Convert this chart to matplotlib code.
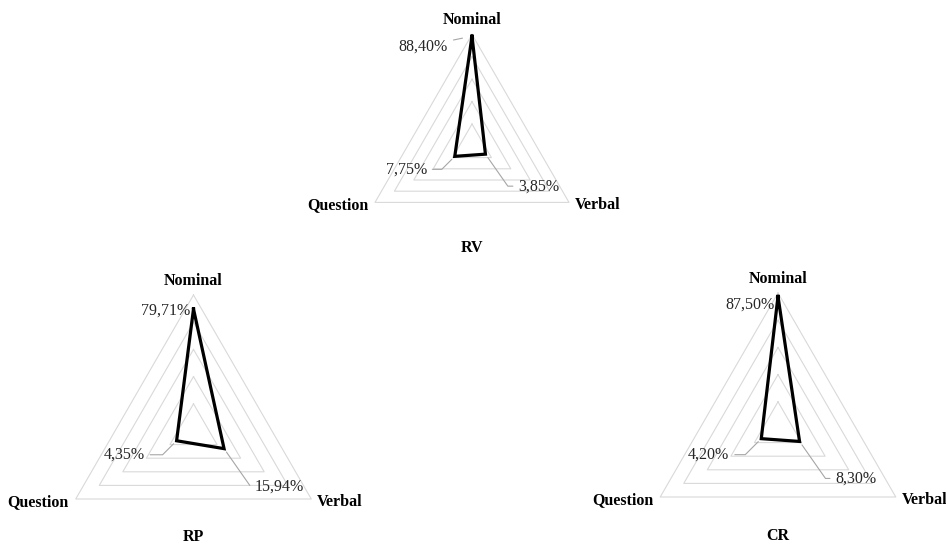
import numpy as np
import matplotlib
matplotlib.use("Agg")
import matplotlib.pyplot as plt

categories = ["Nominal", "Verbal", "Question"]
rv_values = [88.40, 3.85, 7.75]
rp_values = [79.71, 15.94, 4.35]
cr_values = [87.50, 8.30, 4.20]
chart_titles = ["RV", "RP", "CR"]
ring_levels = [10, 30, 50, 70, 90]
r_min, r_max = -10, 90

plt.rcParams['font.family'] = ['Liberation Serif', 'DejaVu Serif']

W, H = 946, 544
fig = plt.figure(figsize=(W / 100, H / 100), dpi=100)

# (center x, center y in px from top, radius px, title offset px)
layouts = [(472, 146.4, 112, 102), (193.5, 431, 136, 106), (778, 429, 136, 107)]
# label offsets (px) for Nominal, Verbal, Question and whether leader line
label_offsets = [
    [(-24, -10, True), (33, -32, True), (-28, -13, True)],
    [(-3, -2, False), (31, -38, True), (-32, -14, True)],
    [(-3, -8, False), (36, -37, True), (-32, -16, True)],
]
leader_conn = {
    0: "arc3,rad=0",
    1: "angle,angleA=0,angleB=-55,rad=0",
    2: "angle,angleA=0,angleB=45,rad=0",
}
leader_shrinkB = {0: 7, 1: 3, 2: 3}

angles = [0, 2 * np.pi / 3, 4 * np.pi / 3]
all_values = [rv_values, rp_values, cr_values]

for idx, ((cx, cy, R, toff), vals, title) in enumerate(zip(layouts, all_values, chart_titles)):
    ax = fig.add_axes([(cx - R) / W, (H - cy - R) / H, 2 * R / W, 2 * R / H],
                      projection='polar')
    ax.set_theta_offset(np.pi / 2)
    ax.set_theta_direction(-1)
    ax.set_ylim(r_min, r_max)
    ax.grid(False)
    ax.set_xticks([])
    ax.set_yticks([])
    ax.spines['polar'].set_visible(False)
    ax.patch.set_visible(False)

    closed = angles + [angles[0]]
    for lv in ring_levels:
        ax.plot(closed, [lv] * 4, color='#d9d9d9', lw=0.8, zorder=1, clip_on=False)

    ax.plot(closed, list(vals) + [vals[0]], color='black', lw=2.3, zorder=3,
            solid_joinstyle='miter', clip_on=False)

    # category labels
    ax.annotate(categories[0], xy=(angles[0], r_max), xytext=(0, 6),
                textcoords='offset pixels', ha='center', va='bottom',
                fontsize=11.5, fontweight='bold', annotation_clip=False)
    ax.annotate(categories[1], xy=(angles[1], r_max), xytext=(6, -3),
                textcoords='offset pixels', ha='left', va='center',
                fontsize=11.5, fontweight='bold', annotation_clip=False)
    ax.annotate(categories[2], xy=(angles[2], r_max), xytext=(-7, -3),
                textcoords='offset pixels', ha='right', va='center',
                fontsize=11.5, fontweight='bold', annotation_clip=False)

    # title below
    ax.annotate(title, xy=(angles[0], r_min), xytext=(0, -toff),
                textcoords='offset pixels', ha='center', va='center',
                fontsize=11.5, fontweight='bold', annotation_clip=False)

    # data labels
    for k, (ang, v) in enumerate(zip(angles, vals)):
        dx, dy, lead = label_offsets[idx][k]
        txt = f"{v:.2f}".replace('.', ',') + '%'
        ha = 'left' if dx > 0 else 'right'
        kw = {}
        if lead:
            kw['arrowprops'] = dict(arrowstyle='-', color='#a6a6a6', lw=0.8,
                                    shrinkA=2, shrinkB=leader_shrinkB[k],
                                    connectionstyle=leader_conn[k])
        ax.annotate(txt, xy=(ang, v), xytext=(dx, dy), textcoords='offset pixels',
                    ha=ha, va='center', fontsize=11.5, color='#262626',
                    annotation_clip=False, zorder=4, **kw)

fig.savefig("out.png", dpi=100)
